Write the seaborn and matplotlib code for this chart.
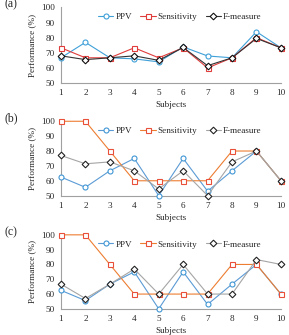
import numpy as np
import pandas as pd
import seaborn as sns
import matplotlib.pyplot as plt

# values
subjects = [1, 2, 3, 4, 5, 6, 7, 8, 9, 10]

ppv_a = [66.7, 76.9, 66.7, 66.0, 64.0, 73.9, 67.9, 66.7, 83.9, 73.3]
sens_a = [73.3, 66.7, 66.7, 73.3, 66.7, 73.3, 60.0, 66.7, 80.0, 73.3]
fm_a = [68.0, 65.5, 66.7, 68.0, 65.0, 73.5, 61.5, 66.7, 79.5, 73.3]

ppv_b = [62.5, 55.6, 66.7, 75.0, 50.0, 75.0, 53.0, 66.7, 80.0, 60.0]
sens_b = [100, 100, 80, 60, 60, 60, 60, 80, 80, 60]
fm_b = [77.0, 71.4, 72.7, 66.7, 54.5, 66.7, 50.0, 72.7, 80.0, 60.0]

ppv_c = [62.5, 55.6, 66.7, 75.0, 50.0, 75.0, 53.0, 66.7, 80.0, 60.0]
sens_c = [100, 100, 80, 60, 60, 60, 60, 80, 80, 60]
fm_c = [66.7, 57.0, 66.7, 76.9, 60.0, 80.0, 60.0, 60.0, 83.3, 80.0]

panels = ["(a)", "(b)", "(c)"]
series = ["PPV", "Sensitivity", "F-measure"]

sns.set_style("white")
plt.rcParams['font.family'] = ['Liberation Serif', 'DejaVu Serif']
fs = 6.6

fig = plt.figure(figsize=(2.89, 3.35), dpi=100)

# axes boxes: left, bottom, width, height
boxes = [[0.211, 0.752, 0.761, 0.226],
         [0.211, 0.416, 0.761, 0.222],
         [0.211, 0.078, 0.761, 0.221]]

# line colour, marker edge colour, marker
style_a = {"PPV": ("#3fa0d8", "#3fa0d8", "o"),
           "Sensitivity": ("#e03c3c", "#e03c3c", "s"),
           "F-measure": ("#333333", "#111111", "D")}
style_bc = {"PPV": ("#5b9bd5", "#3f96d4", "o"),
            "Sensitivity": ("#ed7d31", "#e8503a", "s"),
            "F-measure": ("#a5a5a5", "#222222", "D")}

data = [(ppv_a, sens_a, fm_a), (ppv_b, sens_b, fm_b), (ppv_c, sens_c, fm_c)]

for i, (box, vals) in enumerate(zip(boxes, data)):
    ax = fig.add_axes(box)
    df = pd.DataFrame({"Subjects": subjects * 3,
                       "value": list(vals[0]) + list(vals[1]) + list(vals[2]),
                       "series": np.repeat(series, len(subjects))})
    st = style_a if i == 0 else style_bc
    for name in series:
        lc, mc, mk = st[name]
        sub = df[df["series"] == name]
        sns.lineplot(data=sub, x="Subjects", y="value", ax=ax, color=lc,
                     marker=mk, markersize=3.6 if mk != "D" else 3.4,
                     markerfacecolor="white", markeredgecolor=mc,
                     markeredgewidth=0.8, linewidth=0.8, label=name,
                     clip_on=False, zorder=3)
    ax.set_xlim(1, 10)
    ax.set_ylim(50, 100)
    ax.set_xticks(subjects)
    ax.set_yticks([50, 60, 70, 80, 90, 100])
    for s in ["top", "right"]:
        ax.spines[s].set_visible(False)
    for s in ["left", "bottom"]:
        ax.spines[s].set_color("#a0a0a0")
        ax.spines[s].set_linewidth(0.8)
    ax.tick_params(axis="both", length=2.5, width=0.6, color="#a0a0a0",
                   pad=2, labelsize=fs, direction="out")
    ax.set_xlabel("Subjects", fontsize=fs, labelpad=3)
    ax.set_ylabel("Performance (%)", fontsize=fs, labelpad=3)
    ax.legend(loc="center", bbox_to_anchor=(0.54, 0.87), ncol=3, frameon=False,
              fontsize=fs, handlelength=1.7, columnspacing=0.9,
              handletextpad=0.2, borderpad=0.1)
    ax.text(-0.255, 1.04, panels[i], transform=ax.transAxes, fontsize=8.5,
            ha="left", va="center")

fig.savefig("out.png", dpi=100)
